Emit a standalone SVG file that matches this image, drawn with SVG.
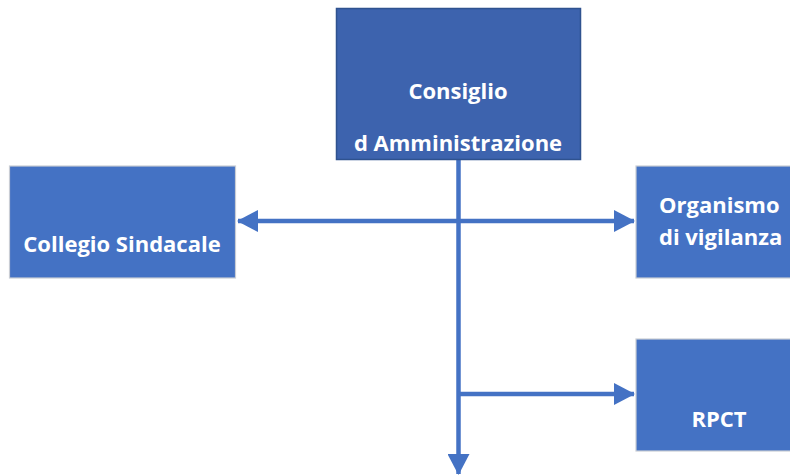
<svg xmlns="http://www.w3.org/2000/svg" width="790" height="476" viewBox="0 0 790 476">
<style>
.box{fill:#4472C4;stroke:#C9CDD4;stroke-width:1.2}
.top{fill:#3D63AE;stroke:#2F528F;stroke-width:1.5}
.t{font-family:"Open Sans","Liberation Sans",sans-serif;font-weight:700;font-size:22px;fill:#FFFFFF}
.c{text-anchor:middle}
.ln{stroke:#4472C4;stroke-width:4.5;fill:none}
</style>
<defs>
<marker id="ah" markerUnits="userSpaceOnUse" markerWidth="22" markerHeight="22" refX="20" refY="11" orient="auto-start-reverse" viewBox="0 0 22 22">
<path d="M0,0 L21,11 L0,22 Z" fill="#4472C4"/>
</marker>
</defs>
<g id="connectors">
<line class="ln" x1="458.5" y1="160" x2="458.5" y2="474" marker-end="url(#ah)"/>
<line class="ln" x1="238" y1="221" x2="634" y2="221" marker-start="url(#ah)" marker-end="url(#ah)"/>
<line class="ln" x1="458.5" y1="394" x2="634" y2="394" marker-end="url(#ah)"/>
</g>
<g id="consiglio">
<rect class="top" x="336.5" y="8.5" width="244" height="151"/>
<text class="t c" x="458" y="99">Consiglio</text>
<text class="t c" x="458" y="151">d Amministrazione</text>
</g>
<g id="collegio">
<rect class="box" x="9.5" y="166" width="226" height="112"/>
<text class="t c" x="122" y="252">Collegio Sindacale</text>
</g>
<g id="organismo">
<rect class="box" x="636" y="166" width="160" height="112"/>
<text class="t" x="659" y="213">Organismo</text>
<text class="t" x="659" y="245">di vigilanza</text>
</g>
<g id="rpct">
<rect class="box" x="636" y="339" width="160" height="112"/>
<text class="t c" x="719" y="427">RPCT</text>
</g>
</svg>
